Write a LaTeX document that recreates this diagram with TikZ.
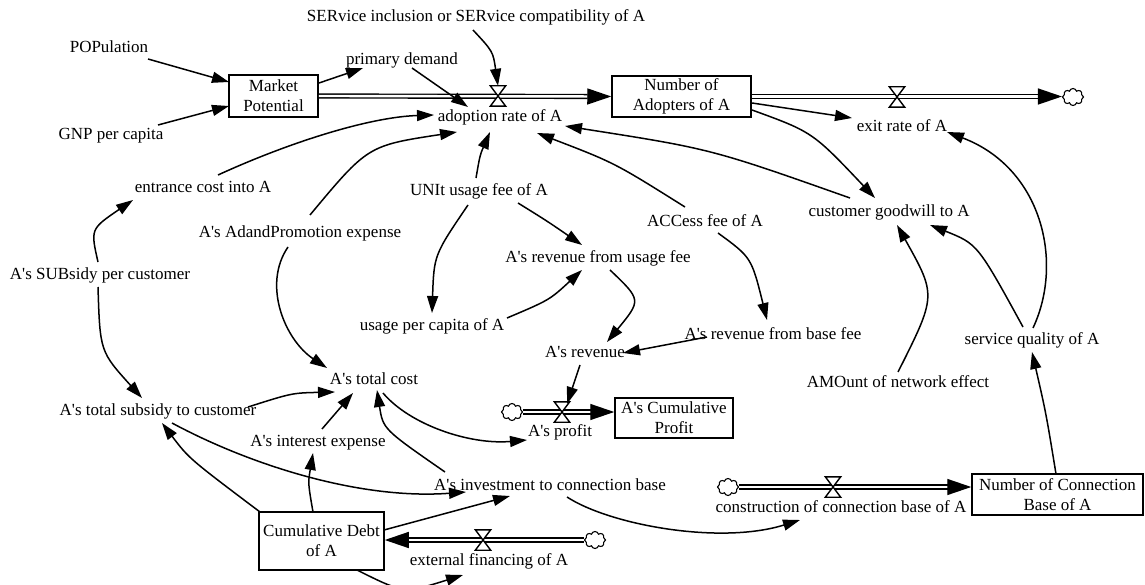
\documentclass[tikz,border=0pt]{standalone}
\usepackage{fontspec}
\setmainfont{Liberation Serif}
\usetikzlibrary{arrows.meta,calc,shapes.symbols}
\newcommand\Asq{A\textquotesingle s}
\newcommand\drawvalve[1]{\filldraw[fill=white, line width=1.4pt] (#1.north west) -- (#1.north east) -- (#1.south west) -- (#1.south east) -- cycle;}
\begin{document}
\begin{tikzpicture}[x=1pt,y=-1pt,
  every node/.style={font=\fontsize{17}{20}\selectfont},
  var/.style={inner sep=1pt, text height=12pt, text depth=3.5pt},
  stock/.style={draw, line width=1.5pt, align=center, inner sep=0pt, fill=white},
  arr/.style={line width=1.5pt, -{Triangle[length=17pt,width=11pt]}},
  pipe/.style={double, line width=1.4pt, double distance=2.4pt, -{Triangle[length=24pt,width=16pt]}},
  valvebox/.style={minimum width=15pt, minimum height=20pt, inner sep=0pt},
  cloudnode/.style={cloud, cloud puffs=8, draw, line width=1.1pt, fill=white, minimum width=21pt, minimum height=17pt, inner sep=0pt},
]
\useasboundingbox (0,0) rectangle (1145,585);

% variables
\node[var] (ser) at (476,17) {SERvice inclusion or SERvice compatibility of A};
\node[var] (pop) at (109,48) {POPulation};
\node[var] (prim) at (402,60) {primary demand};
\node[stock, minimum width=89pt, minimum height=42pt] (mp) at (273.5,96) {Market\\Potential};
\node[var] (gnp) at (111,135) {GNP per capita};
\node[var] (adopt) at (500,117) {adoption rate of A};
\node[stock, minimum width=139pt, minimum height=41pt] (na) at (681.5,96.5) {Number of\\Adopters of A};
\node[var] (exit) at (902,127) {exit rate of A};
\node[var] (entr) at (203,188) {entrance cost into A};
\node[var] (unit) at (479,191) {UNIt usage fee of A};
\node[var] (acc) at (705,222) {ACCess fee of A};
\node[var] (cg) at (889,212) {customer goodwill to A};
\node[var] (adp) at (300,233) {\Asq{} AdandPromotion expense};
\node[var] (rufee) at (598,258) {\Asq{} revenue from usage fee};
\node[var] (sub) at (100,275) {\Asq{} SUBsidy per customer};
\node[var] (upc) at (432,326) {usage per capita of A};
\node[var] (rbase) at (773,335) {\Asq{} revenue from base fee};
\node[var] (sq) at (1032,340) {service quality of A};
\node[var] (rev) at (585,353) {\Asq{} revenue};
\node[var] (tc) at (374,380) {\Asq{} total cost};
\node[var] (amo) at (898,383) {AMOunt of network effect};
\node[var] (ts) at (158,411) {\Asq{} total subsidy to customer};
\node[stock, minimum width=118pt, minimum height=40pt] (cp) at (674,418) {\Asq{} Cumulative\\Profit};
\node[var] (profit) at (560,432) {\Asq{} profit};
\node[var] (ie) at (318,442) {\Asq{} interest expense};
\node[var] (inv) at (550,486) {\Asq{} investment to connection base};
\node[stock, minimum width=171pt, minimum height=41pt] (ncb) at (1057.5,494.5) {Number of Connection\\Base of A};
\node[var] (cons) at (841,508) {construction of connection base of A};
\node[stock, minimum width=125pt, minimum height=58pt] (debt) at (321.5,541) {Cumulative Debt\\of A};
\node[var] (ext) at (489,561) {external financing of A};

% clouds and valves
\node[cloudnode] (c1) at (1073,97) {};
\node[cloudnode] (c2) at (512,412) {};
\node[cloudnode] (c3) at (728,487) {};
\node[cloudnode] (c4) at (595,540) {};
\node[valvebox] (v1) at (498,96) {};
\node[valvebox] (v2) at (897,97) {};
\node[valvebox] (v3) at (562,412) {};
\node[valvebox] (v4) at (833,487) {};
\node[valvebox] (v5) at (483,540) {};

% pipes
\draw[pipe] (mp.east) -- (na.west);
\draw[pipe] (na.east) -- (na.east -| c1.west);
\draw[pipe] (c2.east) -- (c2 -| cp.west);
\draw[pipe] (c3.east) -- (c3 -| ncb.west);
\draw[pipe] (c4.west) -- (c4 -| debt.east);
\drawvalve{v1}
\drawvalve{v2}
\drawvalve{v3}
\drawvalve{v4}
\drawvalve{v5}

% information links
\draw[arr] ($(pop)+(39,11)$) -- ($(mp)+(-44.5,-14)$);
\draw[arr] ($(gnp)+(47,-10)$) -- ($(mp)+(-44.5,10)$);
\draw[arr] ($(mp)+(45.5,-13)$) -- ($(prim)+(-39,8)$);
\draw[arr] ($(prim)+(10,8)$) -- ($(adopt)+(-32,-10)$);
\draw[arr] ($(ser)+(-3,13)$) .. controls (493,51.5) .. (v1.north);
\draw[arr] ($(entr)+(15,-13)$) .. controls (290,142) and (370,117) .. ($(adopt)+(-66,-2)$);
\draw[arr] ($(adp)+(10,-18)$) .. controls (367.8,145.6) .. ($(adopt)+(-43,15)$);
\draw[arr] ($(unit)+(-3,-13)$) .. controls (480,155) .. ($(adopt)+(-10,15)$);
\draw[arr] ($(acc)+(-20,-15)$) .. controls (614.6,162.8) .. ($(adopt)+(37,16)$);
\draw[arr] ($(cg)+(-39,-14)$) .. controls (710.8,148.8) .. ($(adopt)+(65,9)$);
\draw[arr] ($(na)+(70.5,6.5)$) -- ($(exit)+(-50,-9)$);
\draw[arr] ($(na)+(70.5,13.5)$) .. controls (812.5,132) .. ($(cg)+(-14,-14)$);
\draw[arr] ($(sq)+(1,-12)$) .. controls (1064,262) and (1042,168) .. ($(exit)+(45,5)$);
\draw[arr] ($(sq)+(-9,-13)$) .. controls (977.5,244) .. ($(cg)+(41,13)$);
\draw[arr] ($(amo)+(0,-11)$) .. controls (936.5,295.5) .. ($(cg)+(8,13)$);
\draw[arr] ($(ncb)+(-1.5,-20.5)$) .. controls (1046,413) .. ($(sq)+(0,12)$);
\draw[arr] ($(acc)+(13,11)$) .. controls (751.5,257.5) .. ($(rbase)+(-6,-15)$);
\draw[arr] ($(rbase)+(-66,2)$) -- ($(rev)+(38,0)$);
\draw[arr] ($(unit)+(-11,14)$) .. controls (434,255) .. ($(upc)+(0,-13)$);
\draw[arr] ($(unit)+(39,12)$) .. controls (547,221) .. ($(rufee)+(-16,-13)$);
\draw[arr] ($(upc)+(75,-8)$) .. controls (549.5,300) .. ($(rufee)+(-16,12)$);
\draw[arr] ($(rufee)+(12,12)$) .. controls (641.5,300) .. ($(rev)+(22,-11)$);
\draw[arr] ($(rev)+(-5,12)$) -- ($(v3)+(5,-8)$);
\draw[arr] ($(adp)+(-12,14)$) .. controls (262,285) and (285,340) .. ($(tc)+(-47,-12)$);
\draw[arr] ($(sub)+(-2,-13)$) .. controls (90.5,229) .. ($(entr)+(-70,12)$);
\draw[arr] ($(sub)+(-2,12)$) .. controls (100,351.5) .. ($(ts)+(-16,-13)$);
\draw[arr] ($(ts)+(90,-4)$) .. controls (292,393) .. ($(tc)+(-39,12)$);
\draw[arr] ($(ie)+(4,-13)$) -- ($(tc)+(-21,13)$);
\draw[arr] ($(debt)+(-8.5,-29)$) .. controls (308,483) .. ($(ie)+(-5,11)$);
\draw[arr] ($(debt)+(-61.5,-29)$) .. controls (189,458.5) .. ($(ts)+(4,12)$);
\draw[arr] ($(ts)+(14,12)$) .. controls (250,465) and (360,500) .. ($(inv)+(-84,6)$);
\draw[arr] ($(inv)+(-105,-14)$) .. controls (383,429) .. ($(tc)+(3,10)$);
\draw[arr] ($(tc)+(9,13)$) .. controls (410,425) and (470,445) .. ($(profit)+(-33,8)$);
\draw[arr] ($(debt)+(62.5,-11)$) -- ($(inv)+(-40,10)$);
\draw[arr] ($(debt)+(35.5,29)$) .. controls (404,593.5) .. ($(ext)+(-26,14)$);
\draw[arr] ($(inv)+(17,11)$) .. controls (610,525) and (720,545) .. ($(cons)+(-41,12)$);
\end{tikzpicture}
\end{document}
